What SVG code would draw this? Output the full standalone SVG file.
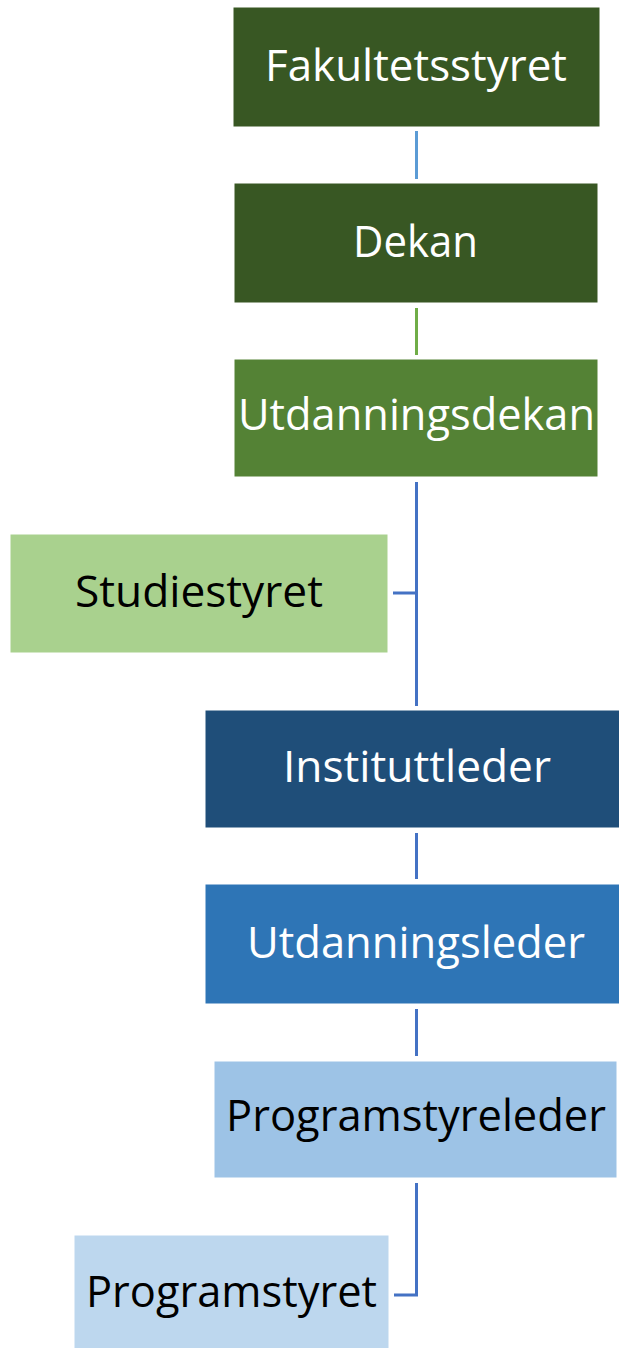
<svg xmlns="http://www.w3.org/2000/svg" width="619" height="1348" viewBox="0 0 619 1348">
<style>
.box{stroke:#ffffff;stroke-width:1}
.lbl{font-family:"Open Sans","Noto Sans",sans-serif;font-size:44px;text-anchor:middle}
.w{fill:#ffffff}
.k{fill:#000000}
.con{fill:none;stroke-width:3}
</style>
<rect width="619" height="1348" fill="#ffffff"/>
<g id="connectors">
<line class="con" x1="416.5" y1="131" x2="416.5" y2="179" stroke="#5B9BD5"/>
<line class="con" x1="416.5" y1="308" x2="416.5" y2="355" stroke="#70AD47"/>
<path class="con" d="M416.5 482 V706 M393 593 H416.5" stroke="#4472C4"/>
<line class="con" x1="416.5" y1="833" x2="416.5" y2="879" stroke="#4472C4"/>
<line class="con" x1="416.5" y1="1009" x2="416.5" y2="1056" stroke="#4472C4"/>
<path class="con" d="M416.5 1183 V1295 H394" stroke="#4472C4"/>
</g>
<g id="fakultetsstyret">
<rect class="box" x="233" y="7" width="367" height="120" fill="#385723"/>
<text class="lbl w" x="416" y="81" textLength="302" lengthAdjust="spacingAndGlyphs">Fakultetsstyret</text>
</g>
<g id="dekan">
<rect class="box" x="234" y="183" width="364" height="120" fill="#385723"/>
<text class="lbl w" x="415.5" y="257" textLength="125" lengthAdjust="spacingAndGlyphs">Dekan</text>
</g>
<g id="utdanningsdekan">
<rect class="box" x="234" y="359" width="364" height="118" fill="#548235"/>
<text class="lbl w" x="416.5" y="430" textLength="357" lengthAdjust="spacingAndGlyphs">Utdanningsdekan</text>
</g>
<g id="studiestyret">
<rect class="box" x="10" y="534" width="378" height="119" fill="#A9D18E"/>
<text class="lbl k" x="199" y="607" textLength="248" lengthAdjust="spacingAndGlyphs">Studiestyret</text>
</g>
<g id="instituttleder">
<rect class="box" x="205" y="710" width="415" height="118" fill="#1F4E79"/>
<text class="lbl w" x="417" y="782" textLength="268" lengthAdjust="spacingAndGlyphs">Instituttleder</text>
</g>
<g id="utdanningsleder">
<rect class="box" x="205" y="884" width="415" height="120" fill="#2E75B6"/>
<text class="lbl w" x="416" y="958" textLength="338" lengthAdjust="spacingAndGlyphs">Utdanningsleder</text>
</g>
<g id="programstyreleder">
<rect class="box" x="214" y="1061" width="403" height="117" fill="#9DC3E6"/>
<text class="lbl k" x="416" y="1131" textLength="380" lengthAdjust="spacingAndGlyphs">Programstyreleder</text>
</g>
<g id="programstyret">
<rect class="box" x="74" y="1235" width="315" height="120" fill="#BDD7EE"/>
<text class="lbl k" x="231.5" y="1307" textLength="291" lengthAdjust="spacingAndGlyphs">Programstyret</text>
</g>
</svg>
